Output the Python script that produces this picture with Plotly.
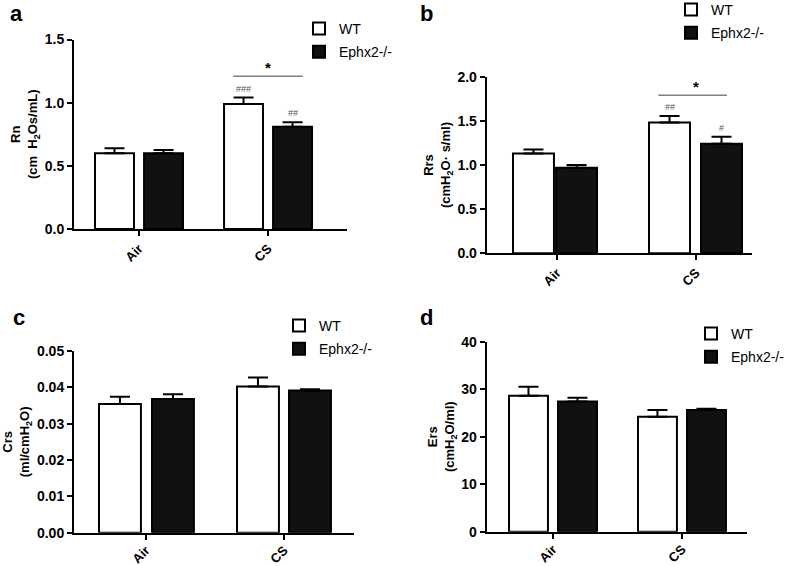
import plotly.graph_objects as go

# ---------------- data ----------------
categories = ["Air", "CS"]
group_names = ["WT", "Ephx2-/-"]

rn_wt = [0.60, 0.99]
rn_wt_err = [0.04, 0.05]
rn_ko = [0.60, 0.81]
rn_ko_err = [0.025, 0.035]

rrs_wt = [1.13, 1.48]
rrs_wt_err = [0.045, 0.075]
rrs_ko = [0.97, 1.24]
rrs_ko_err = [0.03, 0.08]

crs_wt = [0.0354, 0.0402]
crs_wt_err = [0.0020, 0.0025]
crs_ko = [0.0368, 0.0391]
crs_ko_err = [0.0013, 0.0004]

ers_wt = [28.6, 24.2]
ers_wt_err = [1.9, 1.4]
ers_ko = [27.4, 25.6]
ers_ko_err = [0.8, 0.3]

panel_labels = ["a", "b", "c", "d"]
y_titles = [
    "Rn<br>(cm  H<sub>2</sub>Os/mL)",
    "Rrs<br>(cmH<sub>2</sub>O· s/ml)",
    "Crs<br>(ml/cmH<sub>2</sub>O)",
    "Ers<br>(cmH<sub>2</sub>O/ml)",
]
y_max = [1.5, 2.0, 0.05, 40]
y_dtick = [0.5, 0.5, 0.01, 10]
y_fmt = [".1f", ".1f", ".2f", "d"]

hash_wt = [["", "###"], ["", "##"], ["", ""], ["", ""]]
hash_ko = [["", "##"], ["", "#"], ["", ""], ["", ""]]
sig_star_y = [1.21, 1.79, None, None]

# ---------------- layout / style ----------------
W, H = 787, 566
FONT = "Arial, Liberation Sans, sans-serif"

# pixel boxes of each plot area: (left, right, top, bottom)
boxes = [(74, 347, 39.5, 229), (486.7, 752, 76.7, 253.3),
         (74, 354, 351, 532.7), (486.7, 746.7, 341.7, 531.7)]
x_ranges = [[-0.504, 1.612], [-0.506, 1.403], [-0.522, 1.507], [-0.514, 1.502]]
wt_offset = [[-0.341, -0.341], [-0.317, -0.338], [-0.341, -0.341], [-0.341, -0.341]]
ko_offset = [[0.039, 0.039], [-0.007, 0.036], [0.043, 0.036], [0.039, 0.039]]
bar_w = [0.302, 0.295, 0.304, 0.302]
sig_ext = [(0.08, 0.08), (0.08, 0.04), (0, 0), (0, 0)]
xlabel_standoff = [0, 0, -2, -2]
label_pos = [(16, 14), (427, 14), (19, 317), (426, 317)]
legend_pos = [(299, 13), (671, -6), (279, 310), (691, 318)]

wt_vals = [rn_wt, rrs_wt, crs_wt, ers_wt]
wt_errs = [rn_wt_err, rrs_wt_err, crs_wt_err, ers_wt_err]
ko_vals = [rn_ko, rrs_ko, crs_ko, ers_ko]
ko_errs = [rn_ko_err, rrs_ko_err, crs_ko_err, ers_ko_err]

fig = go.Figure()
layout = dict(
    width=W, height=H,
    margin=dict(l=0, r=0, t=0, b=0, autoexpand=False),
    paper_bgcolor="white", plot_bgcolor="white",
    font=dict(family=FONT, color="black"),
    barmode="overlay", showlegend=True,
)
annotations = []
shapes = []

for i in range(4):
    sfx = "" if i == 0 else str(i + 1)
    xa, ya = "x" + sfx, "y" + sfx
    leg = "legend" + sfx
    L, R, T, B = boxes[i]
    for name, vals, errs, offs, fill in [
        (group_names[0], wt_vals[i], wt_errs[i], wt_offset[i], "white"),
        (group_names[1], ko_vals[i], ko_errs[i], ko_offset[i], "#111111"),
    ]:
        fig.add_trace(go.Bar(
            x=categories, y=vals, name=name, xaxis=xa, yaxis=ya,
            offset=offs, width=bar_w[i], legend=leg,
            legendgroup=name + sfx,
            marker=dict(color=fill, line=dict(color="black", width=2)),
            error_y=dict(type="data", array=errs, symmetric=False,
                         arrayminus=[0] * len(errs), color="black",
                         thickness=2, width=10),
        ))
    layout["xaxis" + sfx] = dict(
        domain=[L / W, R / W], anchor=ya, type="category",
        range=x_ranges[i], showline=True, linecolor="black", linewidth=2,
        ticks="outside", ticklen=5, tickwidth=2, tickcolor="black",
        tickangle=-45, showgrid=False, zeroline=False, automargin=False,
        ticklabelstandoff=xlabel_standoff[i],
        tickfont=dict(size=13, family=FONT, weight="bold"),
    )
    layout["yaxis" + sfx] = dict(
        domain=[1 - B / H, 1 - T / H], anchor=xa,
        range=[0, y_max[i]], dtick=y_dtick[i], tickformat=y_fmt[i],
        showline=True, linecolor="black", linewidth=2,
        ticks="outside", ticklen=5, tickwidth=2, tickcolor="black",
        showgrid=False, zeroline=False, automargin=False,
        tickfont=dict(size=14, family=FONT, weight="bold"),
        title=dict(text=y_titles[i], standoff=4,
                   font=dict(size=13, family=FONT, weight="bold")),
    )
    lx, ly = legend_pos[i]
    layout[leg] = dict(
        x=lx / W, y=1 - ly / H, xanchor="left", yanchor="top",
        bgcolor="rgba(0,0,0,0)", tracegroupgap=2,
        font=dict(size=14, family=FONT, color="black"),
    )
    # panel label
    px, py = label_pos[i]
    annotations.append(dict(
        text=panel_labels[i], x=px / W, y=1 - py / H, xref="paper", yref="paper",
        xanchor="center", yanchor="middle", showarrow=False,
        font=dict(size=22, family=FONT, weight="bold"),
    ))
    # hash marks
    for j in range(len(categories)):
        for marks, vals, errs, offs in [(hash_wt[i], wt_vals[i], wt_errs[i], wt_offset[i]),
                                        (hash_ko[i], ko_vals[i], ko_errs[i], ko_offset[i])]:
            if marks[j]:
                annotations.append(dict(
                    text=marks[j], x=j + offs[j] + bar_w[i] / 2,
                    y=vals[j] + errs[j], xref=xa, yref=ya,
                    xanchor="center", yanchor="bottom", yshift=2,
                    showarrow=False, font=dict(size=9, family=FONT, color="#555555"),
                ))
    # significance
    if sig_star_y[i] is not None:
        j = 1
        x0 = j + wt_offset[i][j] + bar_w[i] / 2 - sig_ext[i][0]
        x1 = j + ko_offset[i][j] + bar_w[i] / 2 + sig_ext[i][1]
        shapes.append(dict(type="line", xref=xa, yref=ya, x0=x0, x1=x1,
                           y0=sig_star_y[i], y1=sig_star_y[i],
                           line=dict(color="#808080", width=1.5)))
        annotations.append(dict(
            text="*", x=j, y=sig_star_y[i], xref=xa, yref=ya,
            xanchor="center", yanchor="bottom", yshift=-2, showarrow=False,
            font=dict(size=15, family=FONT, weight="bold"),
        ))

layout["annotations"] = annotations
layout["shapes"] = shapes
fig.update_layout(**layout)
fig.write_html(
    "out.html",
    config={"displayModeBar": False},
    post_script="document.body.style.margin='0';document.body.style.overflow='hidden';",
)
